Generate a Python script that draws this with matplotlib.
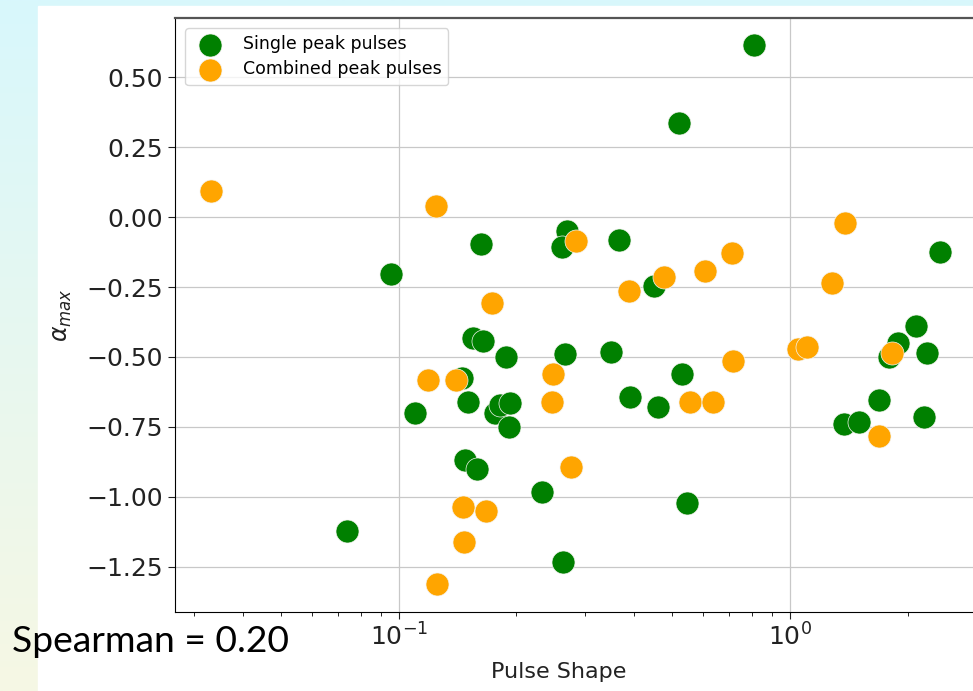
import numpy as np
import matplotlib
matplotlib.use("Agg")
import matplotlib.pyplot as plt
from matplotlib.patches import Rectangle

# Single peak pulses: pulse shape vs alpha_max
single_shape = [0.809, 0.520, 0.0956, 0.162, 0.269, 0.2614, 0.3656, 0.450,
                2.417, 2.102, 1.896, 1.791, 2.249, 0.266, 0.350, 0.5288,
                0.390, 0.4607, 1.689, 1.374, 1.503, 2.204, 0.5445, 0.2626,
                0.1551, 0.1639, 0.1877, 0.1449, 0.1101, 0.1501, 0.1762,
                0.1815, 0.1925, 0.1914, 0.1477, 0.1582, 0.2320, 0.0736]
single_alpha = [0.614, 0.336, -0.204, -0.0975, -0.05, -0.107, -0.083, -0.245,
                -0.125, -0.389, -0.451, -0.499, -0.487, -0.490, -0.482, -0.561,
                -0.644, -0.680, -0.654, -0.739, -0.731, -0.713, -1.020, -1.231,
                -0.431, -0.442, -0.501, -0.576, -0.701, -0.660, -0.699,
                -0.671, -0.666, -0.749, -0.868, -0.900, -0.981, -1.120]

# Combined peak pulses
combined_shape = [0.03315, 0.1243, 0.2834, 0.4773, 0.3884, 0.6088, 0.7096,
                  1.382, 1.2855, 1.820, 1.050, 1.107, 0.716, 0.248, 0.555,
                  0.637, 0.247, 1.691, 0.2752, 0.1734, 0.1186, 0.1401,
                  0.1463, 0.1671, 0.1469, 0.1255]
combined_alpha = [0.094, 0.040, -0.087, -0.213, -0.263, -0.193, -0.130,
                  -0.020, -0.235, -0.487, -0.4725, -0.463, -0.514, -0.561,
                  -0.662, -0.662, -0.662, -0.781, -0.892, -0.308, -0.582,
                  -0.582, -1.037, -1.050, -1.162, -1.312]

series_labels = ["Single peak pulses", "Combined peak pulses"]
y_ticks = [0.50, 0.25, 0.00, -0.25, -0.50, -0.75, -1.00, -1.25]
spearman_text = "Spearman = 0.20"

W, H = 973, 691
fig = plt.figure(figsize=(W / 100, H / 100), dpi=100)

# slide background: soft cyan to pale yellow gradient
bg = fig.add_axes([0, 0, 1, 1], zorder=-10)
top = np.array([216, 247, 252]) / 255
bottom = np.array([246, 248, 228]) / 255
t = np.linspace(0, 1, 256)[:, None]
grad = top[None, :] * (1 - t) + bottom[None, :] * t
bg.imshow(grad[:, None, :], aspect="auto", extent=[0, 1, 0, 1])
bg.add_patch(Rectangle((38 / W, 0), 1 - 38 / W, (H - 6) / H,
                       color="white", zorder=2))
bg.set_xlim(0, 1)
bg.set_ylim(0, 1)
bg.axis("off")

left, right, top_px, bot_px = 175, 982, 18, 612
ax = fig.add_axes([left / W, (H - bot_px) / H, (right - left) / W,
                   (bot_px - top_px) / H])
ax.set_facecolor("white")

marker_size = 275
ax.scatter(single_shape, single_alpha, s=marker_size, color="green",
           edgecolors="#f4f4f0", linewidths=0.5, label=series_labels[0], zorder=3)
ax.scatter(combined_shape, combined_alpha, s=marker_size, color="orange",
           edgecolors="#f4f4f0", linewidths=0.5, label=series_labels[1], zorder=4)

ax.set_xscale("log")
ax.set_xlim(0.02681, 3.10)
ax.set_ylim(-1.411, 0.711)
ax.set_yticks(y_ticks)
ax.set_yticklabels([f"{v:.2f}".replace("-", "\u2212") for v in y_ticks])
ax.grid(True, which="major", color="#c8c8c8", linewidth=0.9)
ax.set_axisbelow(True)
ax.tick_params(axis="both", which="major", labelsize=18, length=5,
               colors="#222222")
ax.tick_params(axis="x", which="minor", length=3)
ax.spines["right"].set_visible(False)
ax.spines["top"].set_color("#555555")
ax.spines["top"].set_linewidth(1.6)

ax.set_xlabel("Pulse Shape", fontsize=16, color="#222222")
ax.set_ylabel(r"$\alpha_{max}$", fontsize=17, color="#222222", labelpad=9)
ax.xaxis.set_label_coords((559 - left) / (right - left), -0.085)

leg = ax.legend(loc="upper left", fontsize=12.5, borderaxespad=0.6,
                handletextpad=0.9, labelspacing=0.4, borderpad=0.4)

fig.text(12 / W, (H - 652) / H, spearman_text, fontsize=26.8,
         family="Lato", va="baseline", ha="left", color="black")

fig.savefig("out.png", dpi=100)
